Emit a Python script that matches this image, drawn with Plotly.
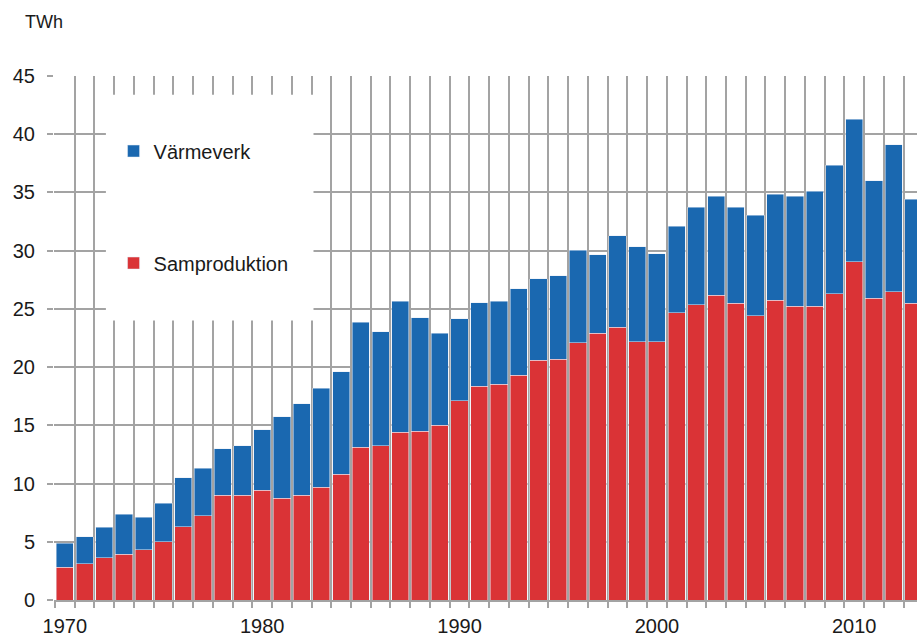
import plotly.graph_objects as go

years = list(range(1970, 2014))

# totals (top of stack) and Samproduktion, TWh
totals = [4.87, 5.43, 6.24, 7.35, 7.10, 8.30, 10.50, 11.33, 13.00, 13.25,
          14.62, 15.74, 16.85, 18.20, 19.60, 23.86, 23.03, 25.67, 24.26, 22.89,
          24.15, 25.52, 25.67, 26.75, 27.58, 27.84, 30.04, 29.64, 31.27, 30.33,
          29.75, 32.09, 33.73, 34.68, 33.73, 33.06, 34.83, 34.68, 35.10, 37.32,
          41.28, 36.02, 39.09, 34.40]
samproduktion = [2.80, 3.12, 3.63, 3.92, 4.32, 5.00, 6.27, 7.24, 8.98, 8.98,
                 9.41, 8.73, 8.98, 9.67, 10.79, 13.13, 13.25, 14.39, 14.50, 15.02,
                 17.11, 18.37, 18.51, 19.31, 20.57, 20.69, 22.09, 22.89, 23.42, 22.17,
                 22.17, 24.67, 25.34, 26.19, 25.49, 24.43, 25.76, 25.22, 25.22, 26.31,
                 29.05, 25.92, 26.46, 25.49]
varmeverk = [round(t - s, 2) for t, s in zip(totals, samproduktion)]

x_labels = [1970, 1980, 1990, 2000, 2010]

grid = "#a3a3a3"
font = dict(family="Liberation Sans, Arial, sans-serif", size=20, color="#1a1a1a")

fig = go.Figure()
fig.add_trace(go.Bar(x=years, y=samproduktion, name="Samproduktion",
                     marker_color="#da3336", legendgroup="s", legendrank=2))
fig.add_trace(go.Bar(x=years, y=varmeverk, name="Värmeverk",
                     marker_color="#1a68b0", legendgroup="v", legendrank=1))

bounds = [y - 0.5 for y in years] + [years[-1] + 0.5]

fig.update_layout(
    width=917, height=637,
    barmode="stack", bargap=0.13,
    plot_bgcolor="white", paper_bgcolor="white",
    font=font,
    margin=dict(l=54, r=0, t=76, b=37, autoexpand=False),
    showlegend=True,
    legend=dict(x=0.069, y=0.894, xanchor="left", yanchor="top",
                traceorder="grouped", tracegroupgap=83,
                bgcolor="rgba(0,0,0,0)", font=dict(size=20)),
    xaxis=dict(range=[1969.45, 2013.18], tickmode="array", tickvals=x_labels,
               ticks="", showgrid=False, zeroline=False, automargin=False,
               showline=True, linecolor=grid, linewidth=2, ticklabelstandoff=7,
               minor=dict(tickmode="array", tickvals=bounds, showgrid=True,
                          gridcolor=grid, gridwidth=2, ticks="outside",
                          ticklen=6, tickcolor=grid, tickwidth=2)),
    yaxis=dict(range=[0, 45], dtick=5, showgrid=True, gridcolor=grid, gridwidth=2,
               zeroline=False, ticks="outside", ticklen=6, tickcolor=grid,
               tickwidth=2, automargin=False, ticklabelstandoff=8),
    shapes=[dict(type="rect", xref="x", yref="y",
                 x0=1972.08, x1=1982.6, y0=24.0, y1=43.4,
                 fillcolor="white", line=dict(width=0), layer="between")],
    annotations=[dict(text="TWh", xref="paper", yref="paper", x=-0.036, y=1.103,
                      xanchor="left", yanchor="middle", showarrow=False,
                      font=dict(size=18))],
)

# drop the default body margin so the figure fills the window
fig.write_html("out.html", config={"displayModeBar": False},
               post_script="document.body.style.margin='0';"
                           "document.body.style.overflow='hidden';")
